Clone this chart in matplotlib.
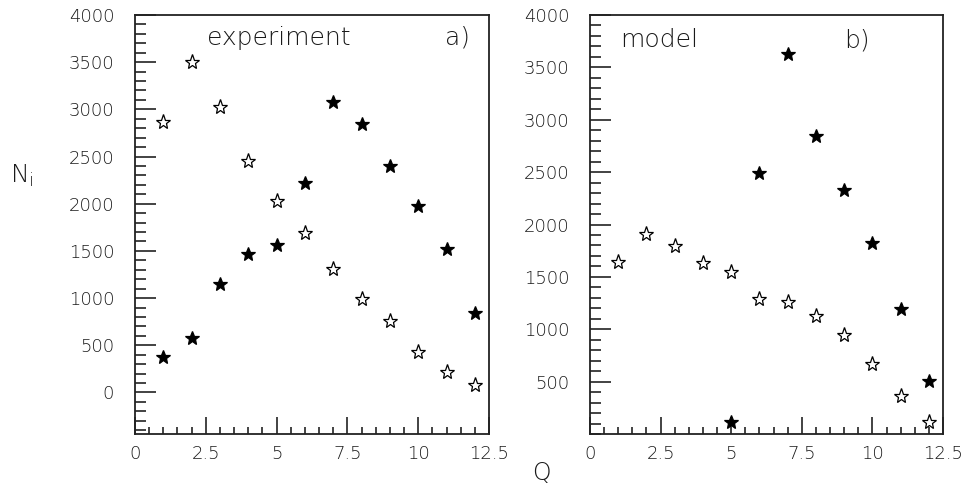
import numpy as np
import matplotlib.pyplot as plt
from matplotlib.ticker import MultipleLocator

Q = np.arange(1, 13)

# panel a) experiment
exp_open = [2870, 3500, 3030, 2450, 2030, 1685, 1307, 994, 758, 433, 215, 74]
exp_filled = [380, 581, 1146, 1466, 1561, 2224, 3076, 2848, 2400, 1973, 1519, 846]

# panel b) model (filled stars only from Q=5)
mod_open = [1643, 1913, 1795, 1633, 1542, 1288, 1262, 1126, 945, 669, 367, 110]
Q_mod_filled = np.arange(5, 13)
mod_filled = [114, 2493, 3632, 2849, 2332, 1824, 1190, 507]

FG = '#222222'
TXT = '#1a1a1a'
plt.rcParams['font.family'] = 'DejaVu Sans'

fig = plt.figure(figsize=(9.69, 4.87), dpi=100)
W, H = 969.0, 487.0

def make_axes(x0, x1, y0, y1):
    return fig.add_axes([x0 / W, 1 - y1 / H, (x1 - x0) / W, (y1 - y0) / H])

ax1 = make_axes(135, 489, 15, 434)
ax2 = make_axes(590, 943, 15, 434)

def style(ax, ymin, yticks):
    ax.set_xlim(0, 12.5)
    ax.set_ylim(ymin, 4000)
    ax.xaxis.set_major_locator(MultipleLocator(2.5))
    ax.xaxis.set_minor_locator(MultipleLocator(0.5))
    ax.set_yticks(yticks)
    ax.yaxis.set_minor_locator(MultipleLocator(100))
    ax.xaxis.set_major_formatter(plt.FuncFormatter(lambda v, p: '%g' % v))
    ax.tick_params(which='major', axis='x', direction='in', length=12, width=1.2, color=FG)
    ax.tick_params(which='minor', axis='x', direction='in', length=5, width=1.2, color=FG)
    ax.tick_params(which='major', axis='y', direction='in', length=15, width=1.2, color=FG)
    ax.tick_params(which='minor', axis='y', direction='in', length=8, width=1.2, color=FG)
    ax.tick_params(which='both', top=False, right=False)
    ax.tick_params(axis='both', labelsize=13, labelcolor=TXT)
    ax.tick_params(axis='x', pad=8)
    ax.tick_params(axis='y', pad=15)
    for lab in ax.get_xticklabels() + ax.get_yticklabels():
        lab.set_fontweight('light')
    for s in ax.spines.values():
        s.set_linewidth(1.3)
        s.set_color(FG)

style(ax1, -440, np.arange(0, 4001, 500))
style(ax2, 0, np.arange(500, 4001, 500))

ms = 11
ax1.plot(Q, exp_open, ls='none', marker='*', ms=ms, mfc='white', mec='black', mew=0.9)
ax1.plot(Q, exp_filled, ls='none', marker='*', ms=ms - 0.5, mfc='black', mec='black', mew=0.9)
ax2.plot(Q, mod_open, ls='none', marker='*', ms=ms, mfc='white', mec='black', mew=0.9)
ax2.plot(Q_mod_filled, mod_filled, ls='none', marker='*', ms=ms - 0.5, mfc='black', mec='black', mew=0.9)

kw = dict(fontsize=18, fontweight='light', color=TXT, va='center')
ax1.text(2.55, 3760, 'experiment', **kw)
ax1.text(10.95, 3760, 'a)', **kw)
ax2.text(1.05, 3760, 'model', **kw)
ax2.text(9.0, 3760, 'b)', **kw)

fig.text(22 / W, 1 - 176 / H, r'$\mathregular{N_i}$', fontsize=18, fontweight='light',
         color=TXT, ha='center', va='center')
fig.text(541 / W, 1 - 473 / H, 'Q', fontsize=17, fontweight='light',
         color=TXT, ha='center', va='center')

fig.savefig('out.png', dpi=100)
